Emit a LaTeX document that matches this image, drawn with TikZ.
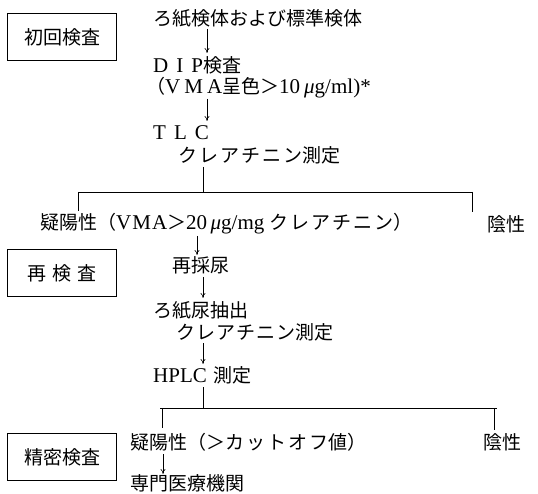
\documentclass[tikz,border=0pt]{standalone}
\usepackage{fontspec}
\setmainfont{Liberation Serif}
\newfontfamily\jp{Noto Sans CJK JP}
\usetikzlibrary{arrows.meta}
\newcommand{\lat}{\fontsize{21}{22}\selectfont}
\begin{document}
\begin{tikzpicture}[x=1pt,y=-1pt,
  txt/.style={anchor=west,inner sep=0pt,font=\fontsize{19}{22}\selectfont},
  stage/.style={draw,line width=0.7pt,minimum width=109pt,minimum height=47pt,inner sep=0pt,font=\jp\fontsize{19}{22}\selectfont},
  conn/.style={line width=0.6pt},
  arr/.style={line width=0.6pt,-{To[length=5pt,width=5pt]}}]
\useasboundingbox (0,0) rectangle (538,494);
% stage boxes
\node[stage] (b1) at (62,37) {初回検査};
\node[stage] (b2) at (62,273) {再\hspace{6pt}検\hspace{6pt}査};
\node[stage] (b3) at (62,457) {精密検査};
% texts
\node[txt] (t1) at (153,18) {\jp ろ紙検体および標準検体};
\node[txt] (t2) at (153,65) {{\lat D\hspace{8pt}I\hspace{8pt}P}{\jp 検査}};
\node[txt] (t3) at (146,88) {{\jp （}{\lat V\hspace{4pt}M\hspace{4pt}A}{\jp 呈色＞}{\lat 10\hspace{4pt}\textit{μ}g/ml)*}};
\node[txt] (t4) at (153,133) {\lat T\hspace{8pt}L\hspace{8pt}C};
\node[txt] (t5) at (178,155) {\jp ク\hspace{2pt}レ\hspace{2pt}ア\hspace{2pt}チ\hspace{2pt}ニ\hspace{2pt}ン測定};
\node[txt] (t6) at (40,224) {{\jp 疑陽性（}{\lat V\hspace{1pt}M\hspace{1pt}A}{\jp ＞}{\lat 20\,\textit{μ}g/mg} {\jp ク\hspace{2pt}レ\hspace{2pt}ア\hspace{2pt}チ\hspace{2pt}ニ\hspace{2pt}ン）}};
\node[txt] (t7) at (487,224) {\jp 陰性};
\node[txt] (t8) at (172,265) {\jp 再採尿};
\node[txt] (t9) at (153,310) {\jp ろ紙尿抽出};
\node[txt] (t10) at (176,332) {\jp ク\hspace{1pt}レ\hspace{1pt}ア\hspace{1pt}チ\hspace{1pt}ニ\hspace{1pt}ン測定};
\node[txt] (t11) at (153,375) {{\lat HPLC} \hspace{2pt}{\jp 測定}};
\node[txt] (t12) at (130,442) {\jp 疑陽性（＞カ\hspace{2pt}ッ\hspace{2pt}ト\hspace{2pt}オ\hspace{2pt}フ値）};
\node[txt] (t13) at (483,442) {\jp 陰性};
\node[txt] (t14) at (130,483) {\jp 専門医療機関};
% junction coordinates
\coordinate (a1s) at (207,29);  \coordinate (a1e) at (207,53);
\coordinate (a2s) at (207,99);  \coordinate (a2e) at (207,121);
\coordinate (l1s) at (203,167); \coordinate (l1e) at (203,192);
\coordinate (h1l) at (78,192);  \coordinate (h1r) at (472,192);
\coordinate (v1l) at (78,211);  \coordinate (v1r) at (472,212);
\coordinate (a3s) at (197,236); \coordinate (a3e) at (197,255);
\coordinate (a4s) at (203,277); \coordinate (a4e) at (203,298);
\coordinate (a5s) at (203,343); \coordinate (a5e) at (203,364);
\coordinate (l2s) at (203,387); \coordinate (l2e) at (203,408);
\coordinate (h2l) at (160,408); \coordinate (h2r) at (497,408);
\coordinate (j2l) at (162,408); \coordinate (j2r) at (494,408);
\coordinate (v2l) at (162,428); \coordinate (v2r) at (494,430);
\coordinate (a6s) at (163,454); \coordinate (a6e) at (163,474);
% connectors
\draw[arr] (a1s) -- (a1e);
\draw[arr] (a2s) -- (a2e);
\draw[conn] (l1s) -- (l1e);
\draw[conn] (h1l) -- (h1r);
\draw[conn] (h1l) -- (v1l);
\draw[conn] (h1r) -- (v1r);
\draw[arr] (a3s) -- (a3e);
\draw[arr] (a4s) -- (a4e);
\draw[arr] (a5s) -- (a5e);
\draw[conn] (l2s) -- (l2e);
\draw[conn] (h2l) -- (h2r);
\draw[conn] (j2l) -- (v2l);
\draw[conn] (j2r) -- (v2r);
\draw[arr] (a6s) -- (a6e);
\end{tikzpicture}
\end{document}
